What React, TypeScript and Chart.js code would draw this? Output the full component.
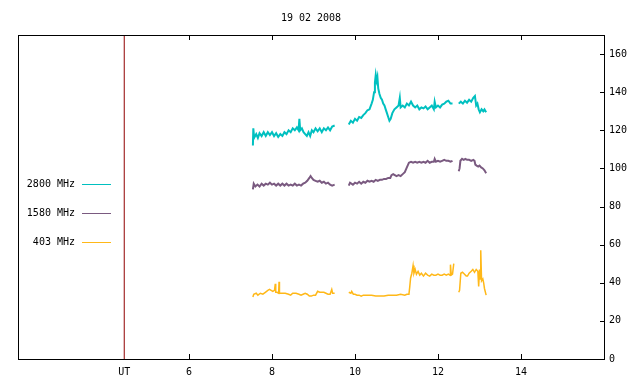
import React, { useEffect, useRef } from 'react';
import { Chart, registerables } from 'chart.js';

Chart.register(...registerables);

const TITLE = '19 02 2008';
const X_MIN = 1.88;
const X_MAX = 16;
const Y_MIN = 0;
const Y_MAX = 170;
const UT_MARK = 4.44;
const UT_LABEL = 'UT';
const X_TICKS = [6, 8, 10, 12, 14];
const Y_TICKS = [0, 20, 40, 60, 80, 100, 120, 140, 160];

const LABELS = ['2800 MHz', '1580 MHz', '403 MHz'];
const COLORS = ['#00c0c0', '#7a5a80', '#ffb818'];
const WIDTHS = [2, 2, 1.5];
const UT_COLOR = '#900000';

const T_2800 = [
  7.54, 7.55, 7.57, 7.62, 7.66, 7.70, 7.75, 7.80, 7.85, 7.90, 7.95, 8.00, 8.05, 8.10, 8.15, 8.20, 8.25, 8.30,
  8.35, 8.40, 8.45, 8.50, 8.55, 8.60, 8.64, 8.66, 8.68, 8.72, 8.76, 8.80, 8.84, 8.88, 8.92, 8.96, 9.00, 9.05,
  9.10, 9.15, 9.20, 9.25, 9.30, 9.35, 9.40, 9.45, 9.51,
  9.65,
  9.85, 9.90, 9.95, 10.00, 10.05, 10.10, 10.15, 10.20, 10.25, 10.30, 10.35, 10.40, 10.43, 10.46, 10.48, 10.50,
  10.52, 10.54, 10.56, 10.59, 10.62, 10.65, 10.68, 10.71, 10.74, 10.77, 10.80, 10.83, 10.86, 10.90, 10.95,
  11.00, 11.05, 11.08, 11.10, 11.15, 11.20, 11.25, 11.30, 11.35, 11.40, 11.45, 11.50, 11.55, 11.60, 11.65,
  11.70, 11.75, 11.80, 11.85, 11.90, 11.92, 11.95, 12.00, 12.05, 12.10, 12.15, 12.20, 12.25, 12.30, 12.35,
  12.42,
  12.50, 12.55, 12.60, 12.65, 12.70, 12.75, 12.80, 12.85, 12.89, 12.92, 12.95, 12.98, 13.01, 13.05, 13.09,
  13.12, 13.16,
];
const V_2800 = [
  112, 121, 116, 118, 116, 118.5, 117, 119, 117, 119, 117.5, 119, 117, 118.5, 116.5, 118, 117, 119,
  118, 120, 119, 121, 120, 121.5, 120, 126, 120, 121, 119, 118, 117, 119, 117, 120, 119, 121,
  119.5, 121, 119, 121, 120, 121.5, 120, 122, 122.5,
  null,
  123, 125, 124, 126, 125, 127, 126.5, 128, 129, 130.5, 131, 134, 136, 140, 145, 149,
  146, 148, 142, 139, 137, 136, 134, 133, 131, 129, 127, 125, 126, 129, 131,
  132, 133, 137, 132, 133, 132, 134, 133, 135, 133, 132, 133, 131, 132, 131.5,
  132.5, 131, 132, 133, 131, 135, 132, 133, 132, 133.5, 134, 135, 135.5, 134, 134,
  null,
  134, 135, 134, 135.5, 134.5, 136, 135, 137, 138, 133, 134, 131, 129.5, 131, 130,
  131, 129.5,
];

const T_1580 = [
  7.54, 7.56, 7.60, 7.65, 7.70, 7.75, 7.80, 7.85, 7.90, 7.95, 8.00, 8.05, 8.10, 8.15, 8.20, 8.25, 8.30, 8.35,
  8.40, 8.45, 8.50, 8.55, 8.60, 8.65, 8.70, 8.75, 8.80, 8.85, 8.90, 8.93, 8.96, 9.00, 9.05, 9.10, 9.15, 9.20,
  9.25, 9.30, 9.35, 9.40, 9.45, 9.51,
  9.65,
  9.85, 9.88, 9.95, 10.00, 10.05, 10.10, 10.15, 10.20, 10.25, 10.30, 10.35, 10.40, 10.45, 10.50, 10.55, 10.60,
  10.65, 10.70, 10.75, 10.80, 10.85, 10.88, 10.92, 10.96, 11.00, 11.05, 11.10, 11.15, 11.20, 11.25, 11.30,
  11.35, 11.40, 11.45, 11.50, 11.55, 11.60, 11.65, 11.70, 11.75, 11.80, 11.85, 11.90, 11.92, 11.95, 12.00,
  12.05, 12.10, 12.15, 12.20, 12.25, 12.30, 12.35,
  12.42,
  12.50, 12.52, 12.54, 12.58, 12.62, 12.66, 12.70, 12.75, 12.80, 12.85, 12.88, 12.90, 12.93, 12.97, 13.00,
  13.04, 13.08, 13.12, 13.16,
];
const V_1580 = [
  89, 92, 90.5, 91.5, 90.5, 92, 91, 92, 91.5, 92.5, 91.5, 92, 91, 92, 91, 92, 91, 92,
  91, 91.5, 91, 92, 91, 91.5, 91, 92, 92.5, 93.5, 95, 96, 95, 94, 93.5, 93, 93.5, 92.5,
  93, 92, 92.5, 91.5, 91, 91.5,
  null,
  91, 92.5, 91.5, 92.5, 92, 93, 92, 93, 92.5, 93.5, 93, 93.5, 93, 94, 93.5, 94,
  94, 94.5, 94.5, 95, 95, 96.5, 97, 96.5, 96, 96.5, 96, 97, 98, 100.5, 103,
  103.5, 103, 103.5, 103, 103.5, 103, 103.5, 103, 104, 103, 103.5, 103.5, 105, 103.5, 104,
  103.5, 104, 104.5, 104, 104, 103.5, 104,
  null,
  98.5, 100, 104, 105, 104.5, 105, 104.5, 104.5, 104, 104.5, 104, 102, 101.5, 101, 101.5,
  100.5, 100, 99, 97.5,
];

const T_403 = [
  7.54, 7.56, 7.62, 7.66, 7.72, 7.78, 7.84, 7.90, 7.94, 7.98, 8.02, 8.06, 8.08, 8.09, 8.12, 8.16, 8.17, 8.18,
  8.25, 8.32, 8.40, 8.45, 8.50, 8.58, 8.65, 8.70, 8.75, 8.80, 8.85, 8.90, 8.95, 9.00, 9.05, 9.10, 9.15, 9.20,
  9.25, 9.30, 9.35, 9.40, 9.44, 9.46, 9.51,
  9.65,
  9.85, 9.90, 9.92, 9.96, 10.00, 10.05, 10.10, 10.15, 10.20, 10.30, 10.40, 10.50, 10.60, 10.70, 10.80, 10.90,
  11.00, 11.10, 11.20, 11.25, 11.30, 11.32, 11.34, 11.37, 11.40, 11.42, 11.45, 11.48, 11.52, 11.56, 11.60,
  11.65, 11.70, 11.75, 11.80, 11.85, 11.90, 11.95, 12.00, 12.05, 12.10, 12.15, 12.20, 12.25, 12.29, 12.30,
  12.32, 12.35, 12.38,
  12.44,
  12.50, 12.52, 12.55, 12.59, 12.64, 12.68, 12.71, 12.75, 12.80, 12.84, 12.88, 12.92, 12.96, 12.98, 13.00,
  13.02, 13.03, 13.05, 13.08, 13.10, 13.12, 13.16,
];
const V_403 = [
  32.5, 34, 34.5, 33.5, 34.5, 34, 35, 36, 36.5, 36, 35.5, 36, 39.5, 35, 35, 34.5, 40.5, 34.5,
  34.5, 34.5, 34, 33.5, 34.5, 34.5, 34, 33.5, 34, 34.5, 34, 33, 33, 33.5, 33.5, 35.5, 35, 35,
  35, 34.5, 34, 34, 36.5, 34.5, 34.5,
  null,
  35, 34.5, 35.5, 34, 34, 33.5, 33.5, 33, 33.5, 33.5, 33.5, 33, 33, 33, 33.5, 33.5,
  33.5, 34, 33.5, 34, 34, 38, 42.5, 45, 49, 45, 47, 44.5, 46, 44, 45,
  43.5, 45, 44, 43.5, 44.5, 44, 44, 44.5, 44, 44, 44.5, 44, 44.5, 44, 49.5,
  44, 44.5, 50,
  null,
  35, 36, 45, 45.5, 44.5, 43.5, 43.5, 45, 46, 47, 45.5, 47, 46, 38, 47,
  42, 57, 41, 42, 40, 37, 33.5,
];

const SERIES_T = [T_2800, T_1580, T_403];
const SERIES_V = [V_2800, V_1580, V_403];

const FONT = "'DejaVu Sans Mono', 'Liberation Mono', monospace";

const frame = {
  id: 'gnuFrame',
  afterDraw(chart: any) {
    const { ctx, chartArea, scales } = chart;
    const { left, right, top, bottom } = chartArea;
    ctx.save();
    ctx.strokeStyle = '#000';
    ctx.lineWidth = 1;
    ctx.strokeRect(left + 0.5, top + 0.5, right - left, bottom - top);
    ctx.beginPath();
    X_TICKS.forEach((v) => {
      const px = Math.round(scales.x.getPixelForValue(v)) + 0.5;
      ctx.moveTo(px, bottom);
      ctx.lineTo(px, bottom - 5);
      ctx.moveTo(px, top);
      ctx.lineTo(px, top + 5);
    });
    Y_TICKS.forEach((v) => {
      const py = Math.round(scales.y.getPixelForValue(v)) + 0.5;
      ctx.moveTo(right, py);
      ctx.lineTo(right - 4, py);
    });
    ctx.stroke();

    // title
    ctx.fillStyle = '#000';
    ctx.font = `10px ${FONT}`;
    ctx.textAlign = 'center';
    ctx.textBaseline = 'middle';
    ctx.fillText(TITLE, (left + right) / 2, 18);

    // legend
    ctx.textAlign = 'right';
    LABELS.forEach((lab, i) => {
      const y = 184 + i * 29;
      ctx.fillStyle = '#000';
      ctx.fillText(lab, 75, y);
      ctx.strokeStyle = COLORS[i];
      ctx.lineWidth = 1;
      ctx.beginPath();
      ctx.moveTo(82, y + 0.5);
      ctx.lineTo(111, y + 0.5);
      ctx.stroke();
    });
    ctx.restore();
  },
};

export default function App() {
  const ref = useRef<HTMLCanvasElement>(null);
  useEffect(() => {
    if (!ref.current) return;
    const datasets: any[] = SERIES_T.map((ts, i) => ({
      label: LABELS[i],
      data: ts.map((t, j) => ({ x: t, y: SERIES_V[i][j] })),
      borderColor: COLORS[i],
      borderWidth: WIDTHS[i],
      pointRadius: 0,
      tension: 0,
      spanGaps: false,
    }));
    datasets.unshift({
      label: UT_LABEL,
      data: [
        { x: UT_MARK, y: Y_MIN },
        { x: UT_MARK, y: Y_MAX },
      ],
      borderColor: UT_COLOR,
      borderWidth: 1,
      pointRadius: 0,
    });
    const chart = new Chart(ref.current, {
      type: 'line',
      data: { datasets },
      options: {
        animation: false,
        responsive: false,
        devicePixelRatio: 1,
        layout: { padding: { left: 18, top: 35, right: 0, bottom: 0 } },
        plugins: { legend: { display: false }, title: { display: false }, tooltip: { enabled: false } },
        scales: {
          x: {
            type: 'linear',
            position: 'bottom',
            min: X_MIN,
            max: X_MAX,
            grid: { display: false, drawTicks: false },
            border: { display: false },
            afterBuildTicks: (s: any) => {
              s.ticks = [UT_MARK, ...X_TICKS].map((v) => ({ value: v }));
            },
            afterFit: (s: any) => {
              s.height = 25;
            },
            ticks: {
              autoSkip: false,
              maxRotation: 0,
              padding: 7,
              color: '#000',
              font: { family: FONT, size: 10 },
              callback: (v: any) => (v === UT_MARK ? UT_LABEL : String(v)),
            },
          },
          y: {
            type: 'linear',
            position: 'right',
            min: Y_MIN,
            max: Y_MAX,
            grid: { display: false, drawTicks: false },
            border: { display: false },
            afterBuildTicks: (s: any) => {
              s.ticks = Y_TICKS.map((v) => ({ value: v }));
            },
            afterFit: (s: any) => {
              s.width = 36;
            },
            ticks: {
              padding: 5,
              color: '#000',
              font: { family: FONT, size: 10 },
              callback: (v: any) => String(v),
            },
          },
        },
      },
      plugins: [frame],
    });
    return () => chart.destroy();
  }, []);
  return (
    <div style={{ position: 'absolute', left: 0, top: 0, width: 640, height: 384, background: '#fff' }}>
      <canvas ref={ref} width={640} height={384} style={{ display: 'block' }} />
    </div>
  );
}
